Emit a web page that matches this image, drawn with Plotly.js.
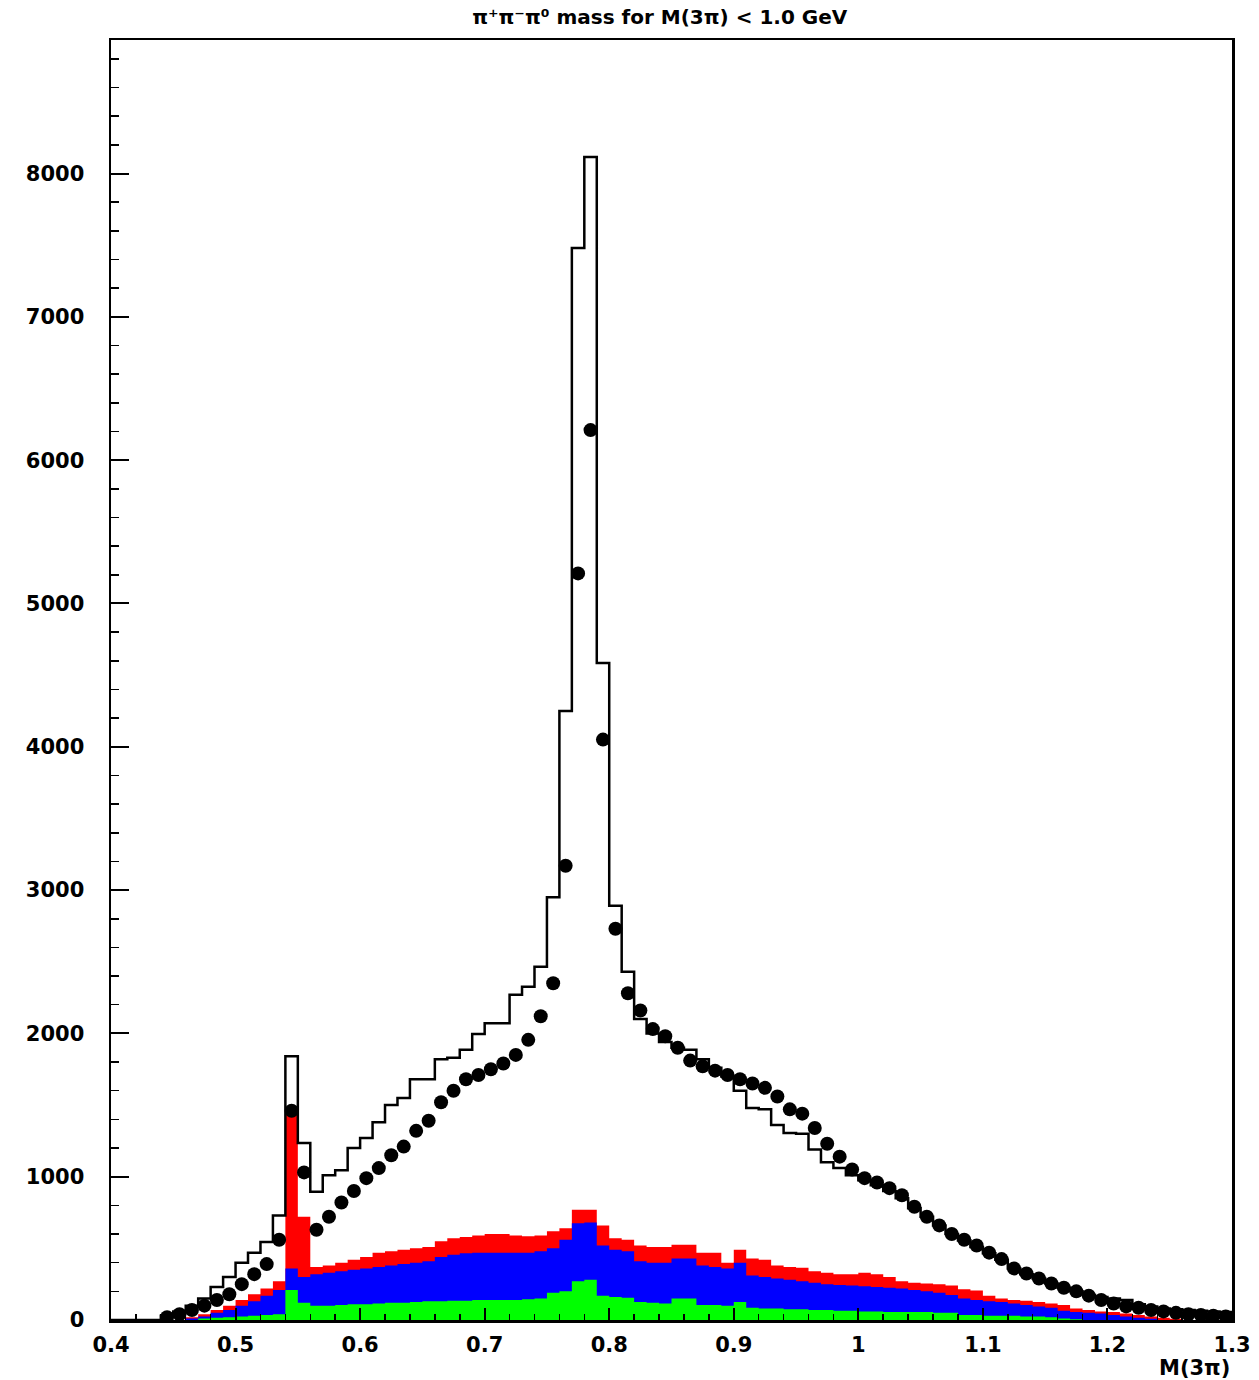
<!DOCTYPE html>
<html>
<head>
<meta charset="utf-8">
<script src="https://cdn.plot.ly/plotly-3.0.1.min.js"></script>
<style>html,body{margin:0;padding:0;background:#fff;}#chart{width:1259px;height:1380px;}</style>
</head>
<body>
<div id="chart"></div>
<script>
// Histogram binning: 90 bins of width 0.01 from 0.40 to 1.30 GeV
const binStart = 0.40;
const binWidth = 0.01;
const nBins = 90;

// Black outline histogram (total)
const totalHist = [
  0, 0, 0, 0, 30, 60, 100, 150, 230, 300,
  400, 470, 545, 730, 1840, 1235, 895, 1010, 1045, 1200,
  1270, 1380, 1500, 1550, 1680, 1680, 1820, 1830, 1885, 1995,
  2070, 2070, 2270, 2325, 2465, 2950, 4250, 7480, 8115, 4585,
  2890, 2430, 2100, 2000, 1940, 1900, 1885, 1820, 1760, 1700,
  1600, 1480, 1470, 1360, 1305, 1300, 1190, 1100, 1060, 1010,
  975, 940, 900, 850, 780, 720, 660, 600, 555, 510,
  465, 420, 360, 320, 290, 255, 225, 200, 175, 160,
  150, 140, 110, 95, 80, 75, 70, 65, 60, 55
];

// Black points (data)
const dataPoints = [
  null, null, null, null, 20, 40, 70, 100, 140, 180,
  250, 320, 390, 560, 1460, 1030, 630, 720, 820, 900,
  990, 1060, 1150, 1210, 1320, 1390, 1520, 1600, 1680, 1710,
  1750, 1790, 1850, 1955, 2120, 2350, 3170, 5210, 6210, 4050,
  2730, 2280, 2160, 2030, 1980, 1900, 1810, 1770, 1740, 1710,
  1680, 1650, 1620, 1560, 1470, 1440, 1340, 1230, 1140, 1050,
  990, 960, 920, 870, 790, 720, 660, 600, 560, 520,
  470, 425, 360, 325, 290, 255, 225, 200, 170, 140,
  115, 95, 85, 70, 60, 50, 40, 35, 30, 25
];

// Stacked components (cumulative tops): red = all three, blue = blue+green, green = green
const redStack = [
  0, 0, 0, 0, 0, 0, 20, 40, 70, 100,
  140, 180, 220, 270, 1430, 720, 370, 380, 400, 420,
  440, 470, 480, 490, 500, 510, 550, 570, 580, 590,
  600, 600, 590, 585, 590, 620, 640, 770, 770, 660,
  570, 560, 520, 510, 510, 525, 525, 470, 470, 400,
  490, 430, 420, 380, 370, 365, 340, 330, 320, 320,
  330, 320, 300, 270, 260, 255, 250, 240, 215, 205,
  170, 150, 140, 135, 125, 115, 105, 80, 70, 60,
  55, 45, 35, 25, 15, 8, 0, 0, 0, 0
];
const blueStack = [
  0, 0, 0, 0, 0, 0, 10, 25, 50, 70,
  100, 130, 170, 210, 360, 300, 320, 330, 340, 350,
  360, 370, 380, 390, 400, 410, 440, 455, 465, 470,
  470, 470, 470, 470, 480, 500, 560, 675, 680, 520,
  490, 480, 410, 400, 400, 430, 430, 380, 370, 360,
  400, 310, 300, 290, 280, 270, 260, 250, 245, 240,
  235, 230, 225, 220, 210, 200, 190, 175, 150, 140,
  130, 125, 115, 105, 95, 85, 65, 55, 50, 45,
  35, 25, 15, 8, 0, 0, 0, 0, 0, 0
];
const greenStack = [
  0, 0, 0, 0, 0, 0, 0, 10, 15, 20,
  25, 30, 35, 40, 210, 120, 100, 100, 105, 110,
  110, 115, 120, 120, 125, 130, 130, 135, 135, 140,
  140, 140, 140, 145, 150, 190, 200, 270, 280, 170,
  160, 155, 125, 120, 115, 150, 150, 105, 105, 100,
  125, 85, 80, 80, 75, 75, 70, 70, 65, 65,
  60, 60, 55, 55, 55, 55, 50, 50, 35, 35,
  30, 30, 30, 25, 25, 20, 10, 5, 0, 0,
  0, 0, 0, 0, 0, 0, 0, 0, 0, 0
];

const xTickVals = [0.4, 0.5, 0.6, 0.7, 0.8, 0.9, 1.0, 1.1, 1.2, 1.3];
const xTickText = ['0.4', '0.5', '0.6', '0.7', '0.8', '0.9', '1', '1.1', '1.2', '1.3'];
const yTickVals = [0, 1000, 2000, 3000, 4000, 5000, 6000, 7000, 8000];
const yTickText = ['0', '1000', '2000', '3000', '4000', '5000', '6000', '7000', '8000'];

const edges = [];
for (let k = 0; k <= nBins; k++) edges.push(+(binStart + binWidth * k).toFixed(3));
const centers = [];
for (let k = 0; k < nBins; k++) centers.push(+(binStart + binWidth * (k + 0.5)).toFixed(4));

function stepXY(vals) {
  const x = [edges[0]], y = [0];
  for (let k = 0; k < nBins; k++) { x.push(edges[k]); y.push(vals[k]); }
  x.push(edges[nBins]); y.push(0);
  return {x, y};
}

function filled(vals, color) {
  const s = stepXY(vals);
  return {x: s.x, y: s.y, type: 'scatter', mode: 'lines', line: {shape: 'hv', width: 0, color: color},
          fill: 'tozeroy', fillcolor: color, hoverinfo: 'skip', showlegend: false};
}

const outline = stepXY(totalHist);
const traces = [
  filled(redStack, '#ff0000'),
  filled(blueStack, '#0000ff'),
  filled(greenStack, '#00ff00'),
  {x: outline.x, y: outline.y, type: 'scatter', mode: 'lines', line: {shape: 'hv', width: 2.5, color: '#000'}, showlegend: false},
  {x: centers, y: dataPoints, type: 'scatter', mode: 'markers', marker: {symbol: 'circle', size: 14, color: '#000'}, showlegend: false}
];

const tickFont = {family: 'DejaVu Sans, sans-serif', size: 21, color: '#000', weight: 'bold'};
const layout = {
  width: 1259, height: 1380,
  margin: {l: 111, r: 27, t: 40, b: 60},
  paper_bgcolor: '#fff', plot_bgcolor: '#fff',
  title: {text: 'π⁺π⁻π⁰ mass for M(3π) &lt; 1.0 GeV',
          font: {family: 'DejaVu Sans, sans-serif', size: 20, color: '#000', weight: 'bold'},
          x: 0.524, xanchor: 'center', y: 0.988, yanchor: 'middle'},
  xaxis: {range: [0.4, 1.3], tickmode: 'array', tickvals: xTickVals, ticktext: xTickText,
          ticks: 'inside', ticklen: 12, tickwidth: 2, tickcolor: '#000',
          minor: {ticks: 'inside', dtick: 0.02, tick0: 0.4, ticklen: 6, tickwidth: 1.5, tickcolor: '#000', showgrid: false},
          showline: true, mirror: true, linecolor: '#000', linewidth: 2.5,
          showgrid: false, zeroline: false, tickfont: tickFont, ticklabelstandoff: 4},
  yaxis: {range: [0, 8932], tickmode: 'array', tickvals: yTickVals, ticktext: yTickText,
          ticks: 'inside', ticklen: 18, tickwidth: 2, tickcolor: '#000',
          minor: {ticks: 'inside', dtick: 200, tick0: 0, ticklen: 8, tickwidth: 1.5, tickcolor: '#000', showgrid: false},
          showline: true, mirror: true, linecolor: '#000', linewidth: 2.5,
          showgrid: false, zeroline: false, tickfont: tickFont, ticklabelstandoff: 20},
  annotations: [{text: 'M(3π)', xref: 'paper', yref: 'paper', x: 1.0, y: -0.0375, xanchor: 'right', yanchor: 'middle',
                 showarrow: false, font: {family: 'DejaVu Sans, sans-serif', size: 21, color: '#000', weight: 'bold'}}]
};

Plotly.newPlot('chart', traces, layout, {displayModeBar: false, staticPlot: true});
</script>
</body>
</html>
